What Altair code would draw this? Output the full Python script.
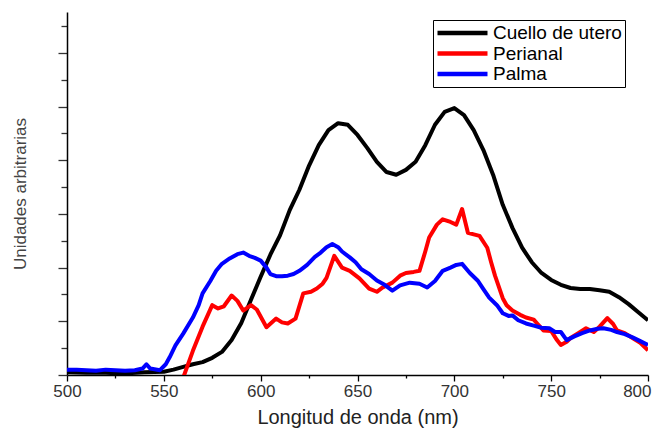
import altair as alt
import pandas as pd

FONT = "Liberation Sans"

series_names = ["Cuello de utero", "Perianal", "Palma"]
series_colors = ["#000000", "#ff0000", "#0000ff"]

cuello_wl = [500, 510, 520, 530, 540, 550, 555, 560, 565, 570, 575, 580, 585, 590, 595,
             600, 605, 610, 615, 620, 625, 630, 635, 640, 645, 650, 655, 660, 665, 670,
             675, 680, 685, 690, 695, 700, 705, 710, 715, 720, 725, 730, 735, 740, 745,
             750, 755, 760, 765, 770, 775, 780, 785, 790, 795, 800]
cuello_val = [0.05, 0.04, 0.04, 0.03, 0.05, 0.06, 0.10, 0.15, 0.20, 0.24, 0.32, 0.43, 0.65, 0.97, 1.40,
              1.83, 2.24, 2.60, 3.07, 3.45, 3.90, 4.28, 4.56, 4.69, 4.66, 4.47, 4.23, 3.97, 3.78, 3.73,
              3.82, 3.97, 4.28, 4.66, 4.90, 4.97, 4.84, 4.56, 4.19, 3.73, 3.17, 2.74, 2.37, 2.10, 1.90,
              1.77, 1.68, 1.62, 1.60, 1.60, 1.58, 1.55, 1.45, 1.32, 1.17, 1.02]

perianal_wl = [560, 565, 570, 575, 578, 581, 585, 588, 591, 595, 598, 603, 608, 611, 614, 618,
               622, 626, 629, 632, 634, 638, 642, 646, 651, 656, 660, 663, 668, 672, 675, 679,
               682, 685, 687, 691, 694, 698, 701, 704, 707, 710, 713, 717, 719, 721, 725, 727,
               730, 734, 737, 741, 743, 746, 750, 753, 755, 758, 760, 764, 768, 772, 775, 779,
               782, 784, 788, 792, 796, 800]
perianal_val = [-0.05, 0.45, 0.90, 1.30, 1.24, 1.28, 1.48, 1.38, 1.20, 1.30, 1.22, 0.89, 1.05, 0.98, 0.96, 1.05,
                1.52, 1.55, 1.61, 1.70, 1.81, 2.22, 2.00, 1.94, 1.80, 1.61, 1.55, 1.63, 1.72, 1.85, 1.90, 1.92,
                1.94, 2.30, 2.56, 2.80, 2.90, 2.85, 2.80, 3.09, 2.65, 2.62, 2.59, 2.37, 2.10, 1.85, 1.43, 1.30,
                1.20, 1.12, 1.07, 1.03, 0.95, 0.83, 0.82, 0.65, 0.56, 0.62, 0.69, 0.78, 0.87, 0.80, 0.90, 1.06,
                0.95, 0.83, 0.78, 0.69, 0.60, 0.46]

palma_wl = [500, 505, 510, 515, 520, 525, 530, 535, 539, 541, 543, 548, 551, 553, 556, 560,
            565, 568, 570, 574, 577, 580, 584, 588, 591, 594, 597, 600, 603, 605, 608, 611,
            614, 617, 620, 624, 628, 631, 634, 637, 640, 642, 646, 649, 652, 656, 660, 664,
            668, 672, 677, 682, 686, 690, 694, 698, 701, 704, 708, 712, 715, 718, 722, 725,
            728, 730, 733, 737, 741, 745, 749, 752, 755, 758, 762, 766, 770, 774, 777, 781,
            784, 788, 792, 796, 800]
palma_val = [0.10, 0.10, 0.09, 0.08, 0.10, 0.09, 0.08, 0.09, 0.12, 0.20, 0.12, 0.09, 0.20, 0.33, 0.55, 0.77,
             1.07, 1.30, 1.52, 1.75, 1.94, 2.07, 2.17, 2.25, 2.28, 2.22, 2.18, 2.13, 2.00, 1.88, 1.84, 1.84,
             1.85, 1.88, 1.94, 2.05, 2.20, 2.28, 2.38, 2.44, 2.38, 2.30, 2.19, 2.10, 1.97, 1.88, 1.76, 1.68,
             1.57, 1.67, 1.72, 1.70, 1.63, 1.75, 1.94, 2.00, 2.05, 2.07, 1.90, 1.76, 1.60, 1.44, 1.30, 1.15,
             1.10, 1.11, 1.02, 0.96, 0.92, 0.88, 0.87, 0.80, 0.80, 0.65, 0.72, 0.78, 0.83, 0.86, 0.87, 0.84,
             0.80, 0.76, 0.70, 0.63, 0.56]

x_ticks = [500, 525, 550, 575, 600, 625, 650, 675, 700, 725, 750, 775, 800]
y_ticks = [0, 0.5, 1, 1.5, 2, 2.5, 3, 3.5, 4, 4.5, 5, 5.5, 6, 6.5]

rows = []
for name, wl, val in [(series_names[0], cuello_wl, cuello_val),
                      (series_names[1], perianal_wl, perianal_val),
                      (series_names[2], palma_wl, palma_val)]:
    for i, (w, v) in enumerate(zip(wl, val)):
        rows.append({"serie": name, "wl": w, "val": v, "idx": i})
df = pd.DataFrame(rows)

chart = alt.Chart(df).mark_line(strokeWidth=4, clip=True, strokeJoin="round").encode(
    x=alt.X("wl:Q",
            scale=alt.Scale(domain=[500, 800], nice=False, zero=False),
            axis=alt.Axis(
                values=x_ticks, grid=False, labelFlush=False,
                labelExpr="datum.value % 50 === 0 ? datum.label : ''",
                labelAlign={"condition": {"test": "datum.value === 800", "value": "right"}, "value": "center"},
                labelOffset={"condition": {"test": "datum.value === 800", "value": 3}, "value": 0},
                tickSize={"condition": {"test": "datum.value % 50 === 0", "value": 6}, "value": 3},
                tickColor="#000", domainColor="#000", domainWidth=1.5, tickWidth=1.3,
                labelFont=FONT, labelFontSize=17, labelColor="#333", labelPadding=2,
                title="Longitud de onda (nm)", titleFont=FONT, titleFontSize=20,
                titleFontWeight="normal", titleColor="#222",
                titleY=48, titleBaseline="alphabetic",
            )),
    y=alt.Y("val:Q",
            scale=alt.Scale(domain=[0, 6.76], nice=False, zero=False),
            axis=alt.Axis(
                values=y_ticks, grid=False, labels=False,
                tickSize={"condition": {"test": "datum.value % 1 === 0", "value": 9}, "value": 6},
                tickColor="#333", domainColor="#000", domainWidth=1.5, tickWidth=1.3,
                title="Unidades arbitrarias", titleFont=FONT, titleFontSize=17,
                titleFontWeight="normal", titleColor="#444", titlePadding=28,
            )),
    color=alt.Color("serie:N",
                    scale=alt.Scale(domain=series_names, range=series_colors),
                    legend=alt.Legend(
                        title=None, orient="none", legendX=366, legendY=8,
                        symbolType="M-3.333,0H3.333", symbolSize=225, symbolStrokeWidth=4.5,
                        symbolOffset=16.5, labelOffset=20.5,
                        labelFont=FONT, labelFontSize=19, labelColor="#000",
                        strokeColor="#000", fillColor="#fff", padding=3,
                        rowPadding=0.5,
                        labelExpr="datum.label == 'Cuello de utero' ? '\u00a0\u00a0Cuello de utero\u00a0\u00a0\u00a0\u00a0' : datum.label",
                    )),
    order="idx:Q",
    detail="serie:N",
).properties(
    width=581, height=363,
    autosize=alt.AutoSizeParams(type="none"),
    padding={"left": 59, "top": 4, "right": 4, "bottom": 53},
).configure_view(stroke=None)

chart.save("out.html", embed_options={"renderer": "svg", "actions": False})
